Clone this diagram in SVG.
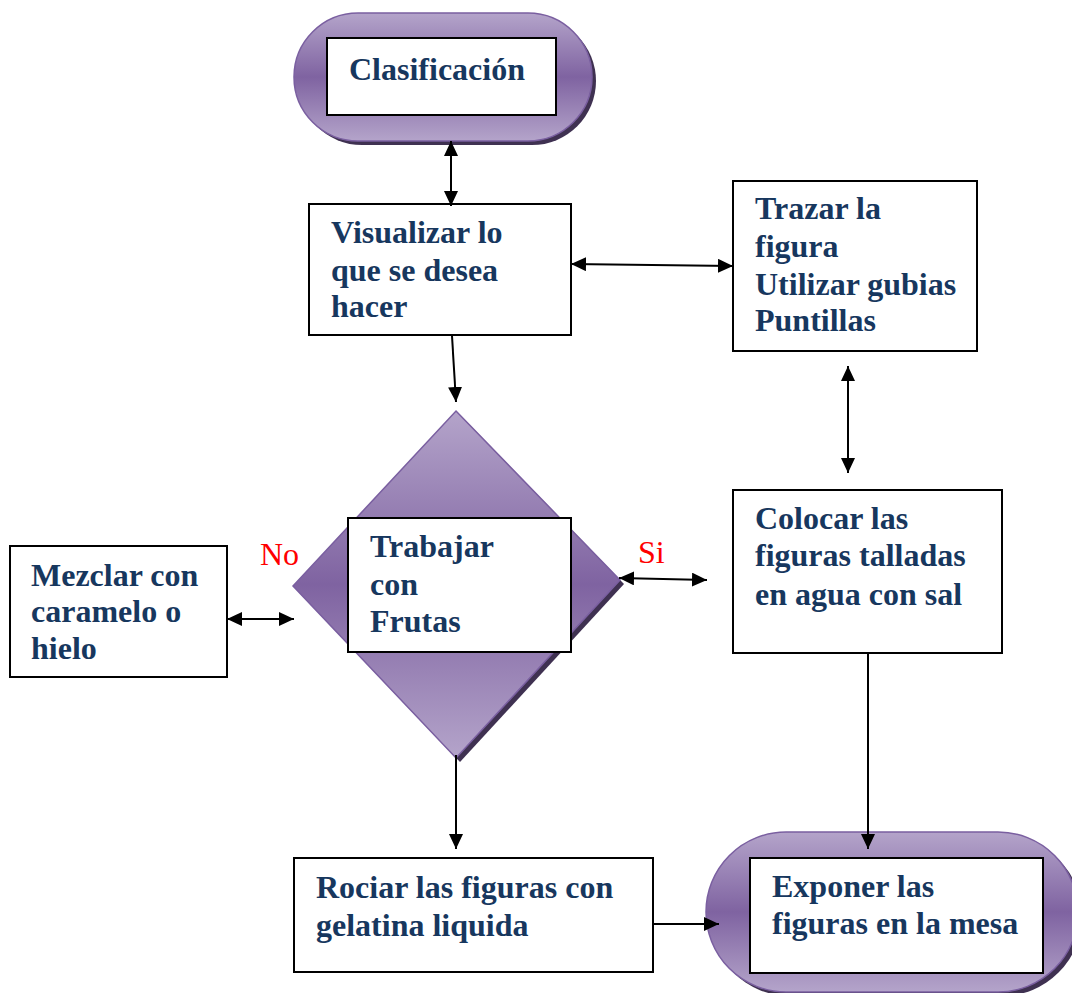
<svg xmlns="http://www.w3.org/2000/svg" width="1072" height="993" viewBox="0 0 1072 993">
  <style>
    .box { fill: #ffffff; stroke: #000000; stroke-width: 2; }
    .lbl { font-family: "Liberation Serif", "Times New Roman", serif; font-weight: bold; font-size: 32px; fill: #17375e; }
    .tag { font-family: "Liberation Serif", "Times New Roman", serif; font-size: 32px; fill: #ff0000; }
    .edge { stroke: #000000; stroke-width: 2; fill: none; }
    .shadow { fill: #3f3151; }
    .shape { stroke: #7a5fa0; stroke-width: 1.5; }
  </style>
  <defs>
    <linearGradient id="band" x1="0" y1="0" x2="0" y2="1">
      <stop offset="0" stop-color="#b4a4ca"/>
      <stop offset="0.5" stop-color="#7f63a1"/>
      <stop offset="1" stop-color="#b4a4ca"/>
    </linearGradient>
    <marker id="head" viewBox="0 0 15 14" refX="15" refY="7" markerWidth="15" markerHeight="14" markerUnits="userSpaceOnUse" orient="auto-start-reverse">
      <path d="M0,0 L15,7 L0,14 z" fill="#000000"/>
    </marker>
  </defs>

  <!-- start terminal -->
  <g id="clasificacion">
    <rect class="shadow" x="298" y="17" width="298" height="128" rx="64"/>
    <rect class="shape" x="294" y="13" width="298" height="128" rx="64" fill="url(#band)"/>
    <rect class="box" x="327" y="38" width="229" height="77"/>
    <text class="lbl" x="349" y="80">Clasificación</text>
  </g>

  <g id="visualizar">
    <rect class="box" x="309" y="204" width="262" height="131"/>
    <text class="lbl" x="331" y="243">Visualizar lo</text>
    <text class="lbl" x="331" y="281">que se desea</text>
    <text class="lbl" x="331" y="317">hacer</text>
  </g>

  <g id="trazar">
    <rect class="box" x="733" y="181" width="244" height="170"/>
    <text class="lbl" x="755" y="219">Trazar la</text>
    <text class="lbl" x="755" y="257">figura</text>
    <text class="lbl" x="755" y="295">Utilizar gubias</text>
    <text class="lbl" x="755" y="331">Puntillas</text>
  </g>

  <!-- decision -->
  <g id="trabajar">
    <polygon class="shadow" points="460,415 624,584 460,762 297,590"/>
    <polygon class="shape" points="456,411 620,580 456,758 293,586" fill="url(#band)"/>
    <rect class="box" x="348" y="518" width="223" height="134"/>
    <text class="lbl" x="370" y="557">Trabajar</text>
    <text class="lbl" x="370" y="595">con</text>
    <text class="lbl" x="370" y="632">Frutas</text>
  </g>

  <g id="mezclar">
    <rect class="box" x="10" y="546" width="217" height="131"/>
    <text class="lbl" x="31" y="586">Mezclar con</text>
    <text class="lbl" x="31" y="622">caramelo o</text>
    <text class="lbl" x="31" y="659">hielo</text>
  </g>

  <g id="colocar">
    <rect class="box" x="733" y="490" width="269" height="163"/>
    <text class="lbl" x="755" y="529">Colocar las</text>
    <text class="lbl" x="755" y="566">figuras talladas</text>
    <text class="lbl" x="755" y="605">en agua con sal</text>
  </g>

  <g id="rociar">
    <rect class="box" x="294" y="858" width="359" height="114"/>
    <text class="lbl" x="316" y="898">Rociar las figuras con</text>
    <text class="lbl" x="316" y="936">gelatina liquida</text>
  </g>

  <!-- end terminal -->
  <g id="exponer">
    <rect class="shadow" x="710" y="836" width="372" height="160" rx="80"/>
    <rect class="shape" x="706" y="832" width="372" height="160" rx="80" fill="url(#band)"/>
    <rect class="box" x="750" y="858" width="293" height="115"/>
    <text class="lbl" x="772" y="897">Exponer las</text>
    <text class="lbl" x="772" y="934">figuras en la mesa</text>
  </g>

  <g id="tags">
    <text class="tag" x="260" y="565">No</text>
    <text class="tag" x="638" y="563">Si</text>
  </g>

  <g id="connectors">
    <line class="edge" x1="451" y1="141" x2="451" y2="206" marker-start="url(#head)" marker-end="url(#head)"/>
    <line class="edge" x1="571" y1="264" x2="733" y2="266" marker-start="url(#head)" marker-end="url(#head)"/>
    <line class="edge" x1="452" y1="336" x2="456" y2="402" marker-end="url(#head)"/>
    <line class="edge" x1="848" y1="366" x2="848" y2="473" marker-start="url(#head)" marker-end="url(#head)"/>
    <line class="edge" x1="227" y1="619" x2="294" y2="619" marker-start="url(#head)" marker-end="url(#head)"/>
    <line class="edge" x1="619" y1="578" x2="707" y2="580" marker-start="url(#head)" marker-end="url(#head)"/>
    <line class="edge" x1="456" y1="755" x2="456" y2="849" marker-end="url(#head)"/>
    <line class="edge" x1="868" y1="653" x2="868" y2="849" marker-end="url(#head)"/>
    <line class="edge" x1="653" y1="924" x2="719" y2="924" marker-end="url(#head)"/>
  </g>
</svg>
